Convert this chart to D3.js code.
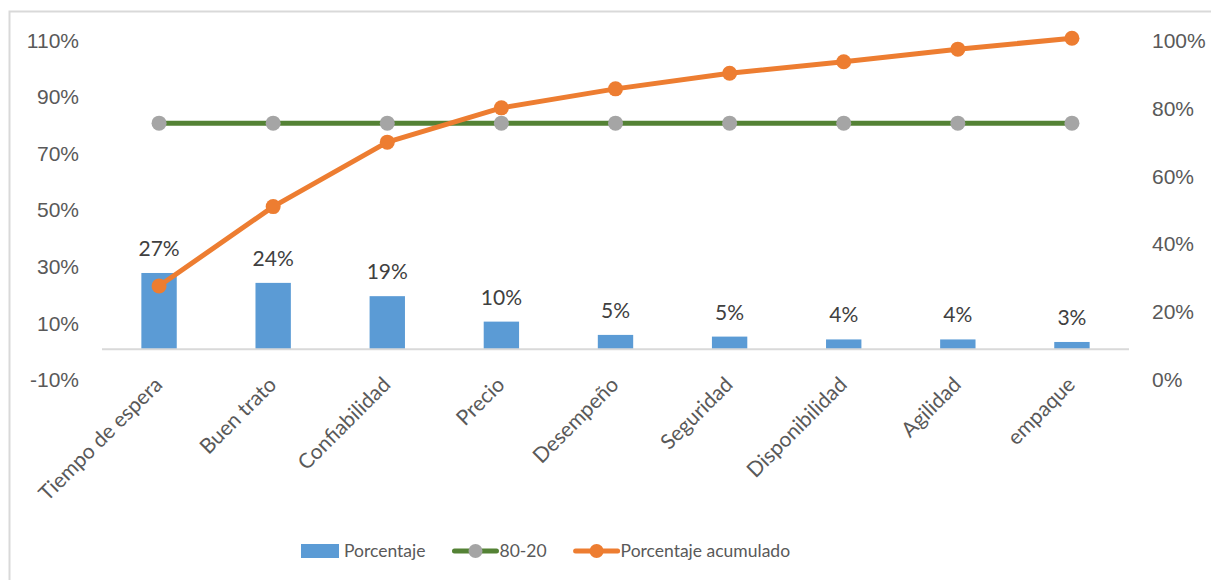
<!doctype html>
<html lang="es">
<head>
<meta charset="utf-8">
<title>Pareto</title>
<style>
    body { margin: 0; background: #fff; }
    svg { display: block; font-family: Lato, "Open Sans", sans-serif; }
    .axis text { fill: #595959; font-size: 21px; }
    .axis path, .axis line { display: none; }
    .bar { fill: #5b9bd5; }
    .bar-label { fill: #404040; font-size: 21px; text-anchor: middle; }
    .cat-label { fill: #595959; font-size: 21px; text-anchor: end; }
    .line { fill: none; stroke-width: 5px; stroke-linejoin: round; }
    .legend text { fill: #595959; font-size: 17.5px; }
</style>
</head>
<body>
<svg id="plot" width="1211" height="580"></svg>

<script src="https://d3js.org/d3.v7.min.js"></script>
<script>
const categories = ["Tiempo de espera", "Buen trato", "Confiabilidad", "Precio", "Desempeño",
    "Seguridad", "Disponibilidad", "Agilidad", "empaque"];
const porcentaje = [27.0, 23.5, 18.8, 9.8, 5.1, 4.5, 3.5, 3.5, 2.6];
const acumulado = [27.0, 50.4, 69.4, 79.5, 85.1, 89.7, 93.1, 96.8, 100];
const ochentaVeinte = [80, 80, 80, 80, 80, 80, 80, 80, 80];
const leftTicks = [-10, 10, 30, 50, 70, 90, 110];
const rightTicks = [0, 20, 40, 60, 80, 100];

const svg = d3.select("#plot");

// chart frame (cut off at right/bottom like the original)
svg.append("rect")
    .attr("x", 9.5).attr("y", 11.5)
    .attr("width", 1230).attr("height", 600)
    .attr("fill", "none").attr("stroke", "#d9d9d9").attr("stroke-width", 2);

const x = d3.scaleBand()
    .domain(categories)
    .range([102, 1129])
    .paddingInner(0.69)
    .paddingOuter(0.345);

const xc = d => x(d) + x.bandwidth() / 2;

const y = d3.scaleLinear().domain([-10, 110]).range([377.6, 38.3]);
const y2 = d3.scaleLinear().domain([0, 100]).range([377.6, 38.3]);

// axes
svg.append("g")
    .attr("class", "axis")
    .attr("transform", "translate(79,0)")
    .call(d3.axisLeft(y).tickValues(leftTicks).tickSize(0).tickPadding(0).tickFormat(d => d + "%"))
    .selectAll("text").attr("dy", "0.43em");

svg.append("g")
    .attr("class", "axis")
    .attr("transform", "translate(1152,0)")
    .call(d3.axisRight(y2).tickValues(rightTicks).tickSize(0).tickPadding(0).tickFormat(d => d + "%"))
    .selectAll("text").attr("dy", "0.43em");

// bars
svg.append("g").selectAll("rect")
    .data(porcentaje)
    .join("rect")
    .attr("class", "bar")
    .attr("x", (d, i) => x(categories[i]))
    .attr("width", x.bandwidth())
    .attr("y", d => y(d))
    .attr("height", d => y(0) - y(d));

// baseline
svg.append("line")
    .attr("x1", 102).attr("x2", 1129)
    .attr("y1", y(0)).attr("y2", y(0))
    .attr("stroke", "#d9d9d9").attr("stroke-width", 2);

// bar labels
svg.append("g").selectAll("text")
    .data(porcentaje)
    .join("text")
    .attr("class", "bar-label")
    .attr("x", (d, i) => xc(categories[i]))
    .attr("y", d => y(d) - 17)
    .text(d => Math.round(d) + "%");

// category labels
svg.append("g").selectAll("text")
    .data(categories)
    .join("text")
    .attr("class", "cat-label")
    .attr("transform", d => "translate(" + (xc(d) + 4.5) + ",386) rotate(-45)")
    .text(d => d);

// 80-20 line
const line80 = d3.line()
    .x((d, i) => xc(categories[i]))
    .y(d => y(d));

svg.append("path")
    .datum(ochentaVeinte)
    .attr("class", "line")
    .attr("stroke", "#548235")
    .attr("d", line80);

svg.append("g").selectAll("circle")
    .data(ochentaVeinte)
    .join("circle")
    .attr("cx", (d, i) => xc(categories[i]))
    .attr("cy", d => y(d))
    .attr("r", 7.5)
    .attr("fill", "#a5a5a5");

// cumulative line on right axis
const lineAcum = d3.line()
    .x((d, i) => xc(categories[i]))
    .y(d => y2(d));

svg.append("path")
    .datum(acumulado)
    .attr("class", "line")
    .attr("stroke", "#ed7d31")
    .attr("d", lineAcum);

svg.append("g").selectAll("circle")
    .data(acumulado)
    .join("circle")
    .attr("cx", (d, i) => xc(categories[i]))
    .attr("cy", d => y2(d))
    .attr("r", 7.5)
    .attr("fill", "#ed7d31");

// legend
const legend = svg.append("g").attr("class", "legend");
const legendItems = [
    {name: "Porcentaje", type: "bar"},
    {name: "80-20", type: "line", stroke: "#548235", marker: "#a5a5a5"},
    {name: "Porcentaje acumulado", type: "line", stroke: "#ed7d31", marker: "#ed7d31"}
];
let lx = 301;
const ly = 551;
for (const it of legendItems) {
    if (it.type === "bar") {
        legend.append("rect")
            .attr("x", lx).attr("y", ly - 7)
            .attr("width", 38).attr("height", 14)
            .attr("fill", "#5b9bd5");
        lx += 43;
    } else {
        legend.append("line")
            .attr("x1", lx).attr("x2", lx + 42)
            .attr("y1", ly).attr("y2", ly)
            .attr("stroke", it.stroke).attr("stroke-width", 5)
            .attr("stroke-linecap", "round");
        legend.append("circle")
            .attr("cx", lx + 21).attr("cy", ly).attr("r", 7)
            .attr("fill", it.marker);
        lx += 45;
    }
    const t = legend.append("text")
        .attr("x", lx).attr("y", ly)
        .attr("dy", "0.36em")
        .text(it.name);
    lx += t.node().getComputedTextLength() + 29;
}
</script>
</body>
</html>
